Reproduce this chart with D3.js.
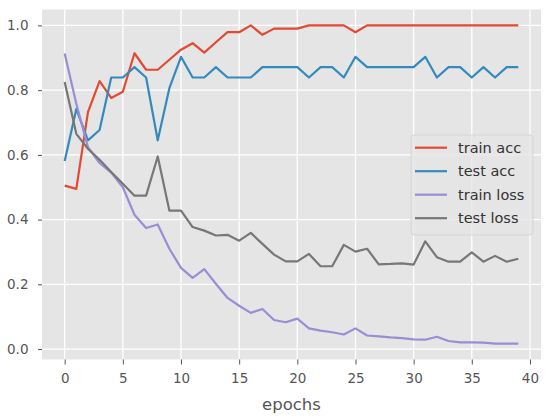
<!DOCTYPE html>
<html><head><meta charset="utf-8">
<script src="https://cdn.jsdelivr.net/npm/d3@7"></script>
<style>body{margin:0;background:#fff;} svg{display:block;}</style>
</head><body>
<svg id="c" width="550" height="420"></svg>
<script>
const epochs = d3.range(0, 40);
const trainAcc = [0.505,0.495,0.732,0.828,0.776,0.795,0.914,0.863,0.863,0.894,0.925,0.945,0.916,0.948,0.979,0.979,1.0,0.971,0.99,0.99,0.99,1.0,1.0,1.0,1.0,0.979,1.0,1.0,1.0,1.0,1.0,1.0,1.0,1.0,1.0,1.0,1.0,1.0,1.0,1.0];
const testAcc = [0.581,0.742,0.645,0.677,0.839,0.839,0.871,0.839,0.645,0.806,0.903,0.839,0.839,0.871,0.839,0.839,0.839,0.871,0.871,0.871,0.871,0.839,0.871,0.871,0.839,0.903,0.871,0.871,0.871,0.871,0.871,0.903,0.839,0.871,0.871,0.839,0.871,0.839,0.871,0.871];
const trainLoss = [0.913,0.758,0.624,0.575,0.545,0.500,0.415,0.374,0.385,0.310,0.251,0.220,0.247,0.202,0.158,0.134,0.112,0.124,0.090,0.083,0.094,0.064,0.057,0.052,0.045,0.064,0.042,0.039,0.036,0.034,0.030,0.029,0.038,0.025,0.021,0.021,0.020,0.017,0.017,0.017];
const testLoss = [0.825,0.665,0.619,0.585,0.547,0.511,0.474,0.474,0.595,0.428,0.428,0.377,0.366,0.351,0.353,0.335,0.359,0.325,0.292,0.271,0.271,0.294,0.256,0.256,0.322,0.301,0.310,0.262,0.263,0.265,0.261,0.333,0.284,0.270,0.270,0.299,0.270,0.288,0.270,0.279];
const seriesNames = ["train acc","test acc","train loss","test loss"];
const seriesColors = ["#E24A33","#348ABD","#988ED5","#777777"];
const xTicks = [0,5,10,15,20,25,30,35,40];
const yTicks = [0.0,0.2,0.4,0.6,0.8,1.0];
const xLabel = "epochs";

const series = [trainAcc, testAcc, trainLoss, testLoss];
const svg = d3.select("#c");
const L = 42, R = 541, T = 9.5, B = 359.5;
const xMin = 0, xMax = 39, xm = (xMax - xMin) * 0.05;
const allV = series.flat();
const yMin = d3.min(allV), yMax = d3.max(allV), ym = (yMax - yMin) * 0.05;
const x = d3.scaleLinear().domain([xMin - xm, xMax + xm]).range([L, R]);
const y = d3.scaleLinear().domain([yMin - ym, yMax + ym]).range([B, T]);

svg.append("rect").attr("x", L).attr("y", T).attr("width", R - L).attr("height", B - T).attr("fill", "#E5E5E5");

const gGrid = svg.append("g");
gGrid.selectAll(".gx").data(xTicks).enter().append("line")
  .attr("x1", d => x(d)).attr("x2", d => x(d)).attr("y1", T).attr("y2", B)
  .attr("stroke", "#fff").attr("stroke-width", 1.3);
gGrid.selectAll(".gy").data(yTicks).enter().append("line")
  .attr("y1", d => y(d)).attr("y2", d => y(d)).attr("x1", L).attr("x2", R)
  .attr("stroke", "#fff").attr("stroke-width", 1.3);

const xAxis = d3.axisBottom(x).tickValues(xTicks).tickSize(5).tickPadding(8.5).tickFormat(d3.format("d"));
const gx = svg.append("g").attr("transform", `translate(0,${B})`).call(xAxis);
const yAxis = d3.axisLeft(y).tickValues(yTicks).tickSize(4).tickPadding(9.5).tickFormat(d3.format(".1f"));
const gy = svg.append("g").attr("transform", `translate(${L},0)`).call(yAxis);
[gx, gy].forEach(g => {
  g.select(".domain").remove();
  g.selectAll(".tick line").attr("stroke", "#555").attr("stroke-width", 1);
  g.selectAll(".tick text").attr("fill", "#555").attr("font-family", "DejaVu Sans").attr("font-size", 13.5);
});

svg.append("text").attr("x", (L + R) / 2).attr("y", 410).attr("text-anchor", "middle")
  .attr("fill", "#555").attr("font-family", "DejaVu Sans").attr("font-size", 16.5).text(xLabel);

const line = d3.line().x((d, i) => x(epochs[i])).y(d => y(d));
series.forEach((s, k) => {
  svg.append("path").datum(s).attr("d", line).attr("fill", "none")
    .attr("stroke", seriesColors[k]).attr("stroke-width", 2.2).attr("stroke-linejoin", "round");
});

const lg = svg.append("g");
lg.append("rect").attr("x", 411).attr("y", 135).attr("width", 122).attr("height", 100).attr("rx", 3)
  .attr("fill", "#E5E5E5").attr("fill-opacity", 0.8).attr("stroke", "#d6d6d6").attr("stroke-width", 1);
seriesNames.forEach((n, k) => {
  const cy = 147.7 + k * 23.5;
  lg.append("line").attr("x1", 415).attr("x2", 447).attr("y1", cy).attr("y2", cy)
    .attr("stroke", seriesColors[k]).attr("stroke-width", 2.2);
  lg.append("text").attr("x", 458).attr("y", cy).attr("dy", "0.35em")
    .attr("fill", "#333").attr("font-family", "DejaVu Sans").attr("font-size", 14.5).text(n);
});
</script>
</body></html>
